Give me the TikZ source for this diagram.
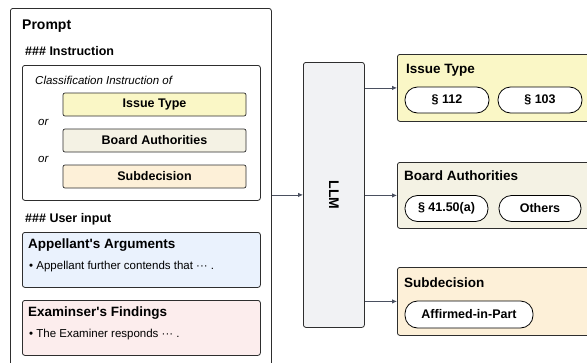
\documentclass[tikz,border=0pt]{standalone}
\usepackage{fontspec}
\setmainfont{Liberation Sans}
\usetikzlibrary{arrows.meta}
\definecolor{edgecol}{HTML}{2E2E2E}
\definecolor{arrowcol}{HTML}{4A5060}
\definecolor{issuecol}{HTML}{FAF7C6}
\definecolor{boardcol}{HTML}{F4F2E4}
\definecolor{subcol}{HTML}{FDF0D8}
\definecolor{appcol}{HTML}{EAF2FD}
\definecolor{examcol}{HTML}{FCEDED}
\definecolor{llmcol}{HTML}{F1F2F4}
\newcommand{\headfont}{\fontsize{13.5}{16}\selectfont\bfseries}
\newcommand{\labfont}{\fontsize{12.5}{15}\selectfont\bfseries}
\newcommand{\bodyfont}{\fontsize{11.5}{14}\selectfont}

\begin{document}
\begin{tikzpicture}[x=1pt,y=-1pt,>={Latex[length=5pt,width=4.5pt]},
  box/.style={draw=edgecol,line width=0.8pt,rounded corners=2.5pt,anchor=north west,inner sep=0pt},
  tag/.style={draw=edgecol,line width=0.7pt,rounded corners=2pt,font=\labfont,minimum width=183,minimum height=23,inner sep=0pt},
  pill/.style={draw=black,line width=0.8pt,fill=white,rounded corners=12.5pt,font=\labfont,minimum height=26,inner sep=0pt},
  head/.style={anchor=west,font=\headfont,inner sep=0pt},
  plain/.style={anchor=west,font=\bodyfont,inner sep=0pt},
  flow/.style={->,draw=arrowcol,line width=0.8pt}]
  \useasboundingbox (0,0) rectangle (587,362);

  % prompt side
  \node[box,fill=white,minimum width=261,minimum height=370] (prompt) at (10,8) {};
  \node[head,font=\fontsize{14}{17}\selectfont\bfseries] (ptitle) at (22,26) {Prompt};
  \node[head,font=\labfont] (hinstr) at (25,51) {\#\#\# Instruction};
  \node[box,fill=white,minimum width=238,minimum height=135] (instr) at (22,65) {};
  \node[plain,font=\bodyfont\itshape] (classif) at (35,80) {Classification Instruction of};
  \node[tag,fill=issuecol] (tagissue) at (154.5,104.5) {Issue Type};
  \node[tag,fill=boardcol] (tagboard) at (154.5,140.5) {Board Authorities};
  \node[tag,fill=subcol] (tagsub) at (154.5,176.5) {Subdecision};
  \node[plain,font=\bodyfont\itshape] (or1) at (38,122.5) {or};
  \node[plain,font=\bodyfont\itshape] (or2) at (38,159) {or};

  \node[head,font=\labfont] (huser) at (25,219) {\#\#\# User input};
  \node[box,fill=appcol,minimum width=238,minimum height=55] (app) at (22,232) {};
  \node[head] (apptitle) at (28,245) {Appellant\textquotesingle s Arguments};
  \node[plain] (apptxt) at (29,267) {• Appellant further contends that ··· .};
  \node[box,fill=examcol,minimum width=238,minimum height=55] (exam) at (22,300) {};
  \node[head] (examtitle) at (28,313) {Examinser\textquotesingle s Findings};
  \node[plain] (examtxt) at (29,335) {• The Examiner responds ··· .};

  % model
  \node[box,fill=llmcol,minimum width=61,minimum height=265] (llm) at (303,62) {};
  \node[font=\fontsize{14}{17}\selectfont\bfseries,rotate=-90] (llmtxt) at (llm.center) {LLM};

  % outputs
  \node[box,fill=issuecol,minimum width=200,minimum height=67] (outissue) at (397,54) {};
  \node[head] (issuetitle) at (406,70) {Issue Type};
  \node[pill,minimum width=84] (p112) at (447,100) {§ 112};
  \node[pill,minimum width=84] (p103) at (540,100) {§ 103};

  \node[box,fill=boardcol,minimum width=200,minimum height=66] (outboard) at (397,162) {};
  \node[head] (boardtitle) at (404,176) {Board Authorities};
  \node[pill,minimum width=83] (p4150) at (446.5,208.5) {§ 41.50(a)};
  \node[pill,minimum width=82] (pothers) at (540,208.5) {Others};

  \node[box,fill=subcol,minimum width=200,minimum height=68] (outsub) at (397,267) {};
  \node[head] (subtitle) at (404,283) {Subdecision};
  \node[pill,minimum width=128,minimum height=27] (paff) at (469,314.5) {Affirmed-in-Part};

  % connectors
  \draw[flow] (prompt.east |- llm.west) -- (llm.west);
  \draw[flow] (llm.east |- outissue.west) -- (outissue.west);
  \draw[flow] (llm.east |- outboard.west) -- (outboard.west);
  \draw[flow] (llm.east |- outsub.west) -- (outsub.west);
\end{tikzpicture}
\end{document}
